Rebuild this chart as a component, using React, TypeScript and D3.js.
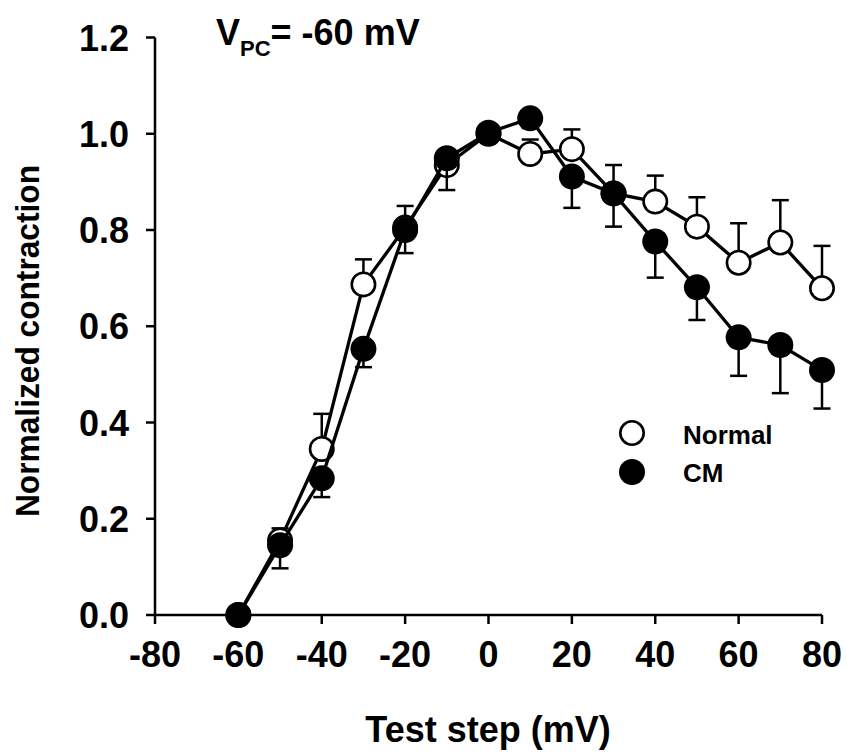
import React from "react";
import * as d3 from "d3";

const testSteps = [-60, -50, -40, -30, -20, -10, 0, 10, 20, 30, 40, 50, 60, 70, 80];
const normalValues = [0, 0.155, 0.345, 0.687, 0.805, 0.935, 1.0, 0.958, 0.968, 0.876, 0.859, 0.807, 0.732, 0.774, 0.679];
const normalErrors = [0, 0.025, 0.073, 0.052, 0.045, 0, 0, 0.03, 0.041, 0.059, 0.054, 0.061, 0.082, 0.088, 0.088];
const cmValues = [0, 0.145, 0.284, 0.553, 0.8, 0.949, 1.002, 1.032, 0.911, 0.876, 0.776, 0.681, 0.577, 0.561, 0.509];
const cmErrors = [0, 0.048, 0.039, 0.038, 0.048, 0.066, 0, 0.02, 0.065, 0.069, 0.075, 0.068, 0.08, 0.1, 0.08];
const xTicks = [-80, -60, -40, -20, 0, 20, 40, 60, 80];
const yTicks = [0, 0.2, 0.4, 0.6, 0.8, 1.0, 1.2];
const seriesNames = ["Normal", "CM"];

const W = 847;
const H = 754;
const FONT = "'Liberation Sans', Arial, Helvetica, sans-serif";

export default function App() {
  const x = d3.scaleLinear().domain([-80, 80]).range([155, 822]);
  const y = d3.scaleLinear().domain([0, 1.2]).range([615, 37.5]);
  const line = d3
    .line<[number, number]>()
    .x((d) => x(d[0]))
    .y((d) => y(d[1]));

  const normalPts: [number, number][] = testSteps.map((t, i) => [t, normalValues[i]]);
  const cmPts: [number, number][] = testSteps.map((t, i) => [t, cmValues[i]]);

  const r = 13;
  const cap = 8.5;

  const errorBars = (vals: number[], errs: number[], dir: number, key: string) =>
    testSteps.map((t, i) => {
      if (!errs[i]) return null;
      const y0 = y(vals[i]);
      const y1 = y(vals[i] + dir * errs[i]);
      const cx = x(t);
      return (
        <g key={key + i} stroke="#000" strokeWidth={2.5}>
          <line x1={cx} x2={cx} y1={y0} y2={y1} />
          <line x1={cx - cap} x2={cx + cap} y1={y1} y2={y1} />
        </g>
      );
    });

  return (
    <svg
      width={W}
      height={H}
      style={{ position: "fixed", left: 0, top: 0, background: "#fff" }}
      fontFamily={FONT}
      fontWeight="bold"
    >
      <rect width={W} height={H} fill="#fff" />
      {/* Axes */}
      <line x1={x(-80)} x2={x(80)} y1={y(0)} y2={y(0)} stroke="#000" strokeWidth={2.5} />
      <line x1={x(-80)} x2={x(-80)} y1={y(0)} y2={y(1.2)} stroke="#000" strokeWidth={2.5} />
      {xTicks.map((t) => (
        <g key={"xt" + t}>
          <line x1={x(t)} x2={x(t)} y1={y(0)} y2={y(0) + 9} stroke="#000" strokeWidth={2.5} />
          <text x={x(t)} y={667} fontSize={36} textAnchor="middle" fill="#000">
            {t}
          </text>
        </g>
      ))}
      {yTicks.map((v) => (
        <g key={"yt" + v}>
          <line x1={x(-80) - 9} x2={x(-80)} y1={y(v)} y2={y(v)} stroke="#000" strokeWidth={2.5} />
          <text x={129} y={y(v) + 13} fontSize={36} textAnchor="end" fill="#000">
            {v.toFixed(1)}
          </text>
        </g>
      ))}
      {/* Axis titles */}
      <text x={488} y={742} fontSize={36} textAnchor="middle" fill="#000">
        Test step (mV)
      </text>
      <text
        transform={`translate(39,341) rotate(-90)`}
        fontSize={34}
        textAnchor="middle"
        fill="#000"
        textLength={352}
        lengthAdjust="spacingAndGlyphs"
      >
        Normalized contraction
      </text>
      {/* Title */}
      <text x={216} y={45} fontSize={36} fill="#000">
        V
        <tspan fontSize={22} dy={11}>
          PC
        </tspan>
        <tspan fontSize={36} dy={-11}>
          = -60 mV
        </tspan>
      </text>

      {/* Normal series */}
      <path d={line(normalPts) || ""} fill="none" stroke="#000" strokeWidth={3.3} />
      {errorBars(normalValues, normalErrors, 1, "ne")}
      {normalPts.map((p, i) => (
        <circle key={"n" + i} cx={x(p[0])} cy={y(p[1])} r={r - 1.3} fill="#fff" stroke="#000" strokeWidth={2.6} />
      ))}

      {/* CM series */}
      <path d={line(cmPts) || ""} fill="none" stroke="#000" strokeWidth={3.3} />
      {errorBars(cmValues, cmErrors, -1, "ce")}
      {cmPts.map((p, i) => (
        <circle key={"c" + i} cx={x(p[0])} cy={y(p[1])} r={r} fill="#000" />
      ))}

      {/* Legend */}
      <circle cx={632} cy={433} r={r - 1.3} fill="#fff" stroke="#000" strokeWidth={2.6} />
      <circle cx={632} cy={472} r={r} fill="#000" />
      <text x={683} y={444} fontSize={26} fill="#000">
        {seriesNames[0]}
      </text>
      <text x={683} y={482} fontSize={26} fill="#000">
        {seriesNames[1]}
      </text>
    </svg>
  );
}
